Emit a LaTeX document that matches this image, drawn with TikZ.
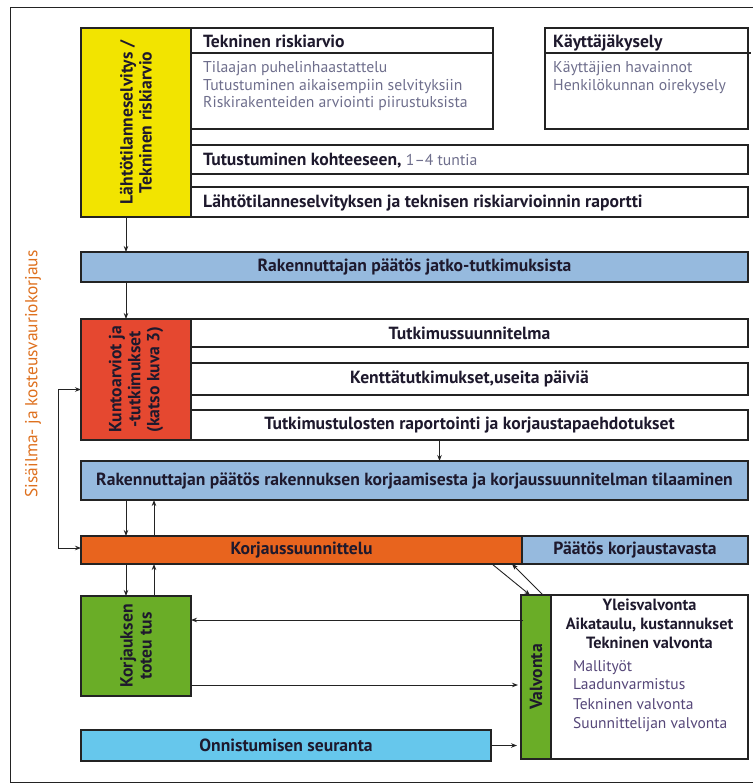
\documentclass[tikz,border=0pt]{standalone}
\usepackage{fontspec}
\setmainfont{PT Sans}
\usetikzlibrary{arrows.meta}
\definecolor{yelc}{RGB}{242,228,0}
\definecolor{skyc}{RGB}{150,186,222}
\definecolor{redc}{RGB}{229,72,48}
\definecolor{orc}{RGB}{232,100,30}
\definecolor{grnc}{RGB}{106,173,39}
\definecolor{cyanc}{RGB}{102,199,236}
\definecolor{ink}{RGB}{30,25,45}
\definecolor{greytxt}{RGB}{110,110,140}
\definecolor{purtxt}{RGB}{85,70,120}
\definecolor{sidetxt}{RGB}{222,112,30}
\definecolor{edge}{RGB}{35,35,35}
\begin{document}
\begin{tikzpicture}[x=1pt,y=-1pt,
  box/.style={draw=edge, line width=1.2pt, inner sep=0pt, outer sep=0pt,
    anchor=north west, font=\fontsize{17.6}{19}\selectfont\bfseries, text=ink},
  boldtxt/.style={font=\fontsize{17.6}{19}\selectfont\bfseries, text=ink, inner sep=0pt, anchor=base west},
  thintxt/.style={font=\fontsize{15.7}{18}\selectfont, text=greytxt, inner sep=0pt, anchor=base west},
  itemtxt/.style={font=\fontsize{15.5}{18}\selectfont, text=purtxt, inner sep=0pt, anchor=base west},
  vtxt/.style={rotate=90, align=center, font=\fontsize{17.6}{19}\selectfont\bfseries, text=ink},
  arr/.style={draw=edge, line width=0.9pt, -{Stealth[length=6pt,width=4.5pt]}}]
\useasboundingbox (0,0) rectangle (752,783);

% outer frame
\draw[draw=edge, line width=1pt] (10,8) rectangle (770,782);

% side label
\node[rotate=90, font=\fontsize{17.4}{19}\selectfont, text=sidetxt] (side) at (33,374)
  {Sisäilma- ja kosteusvauriokorjaus};

% ---- initial survey / technical risk assessment ----
\node[box, fill=yelc, minimum width=110pt, minimum height=189pt] (lt) at (81,28) {};
\node[vtxt] (ltlbl) at (lt.center) {Lähtötilanneselvitys /\\Tekninen riskiarvio};

\node[box, minimum width=302pt, minimum height=101pt] (tr) at (191,28) {};
\draw[draw=edge, line width=1.2pt] (191,53) -- (493,53);
\node[boldtxt] (trh) at (203,48) {Tekninen riskiarvio};
\node[thintxt] (tr1) at (203,73) {Tilaajan puhelinhaastattelu};
\node[thintxt] (tr2) at (203,90.5) {Tutustuminen aikaisempiin selvityksiin};
\node[thintxt] (tr3) at (203,108) {Riskirakenteiden arviointi piirustuksista};

\node[box, minimum width=203pt, minimum height=101pt] (kk) at (545,28) {};
\draw[draw=edge, line width=1.2pt] (545,53) -- (751,53);
\node[boldtxt] (kkh) at (553,48) {Käyttäjäkysely};
\node[thintxt] (kk1) at (553,73) {Käyttäjien havainnot};
\node[thintxt] (kk2) at (553,91) {Henkilökunnan oirekysely};

\node[box, minimum width=557pt, minimum height=29pt] (tk) at (191,145) {};
\node[boldtxt] (tkl) at (203,165.5)
  {Tutustuminen kohteeseen, \textcolor{greytxt}{\mdseries\fontsize{15.7}{18}\selectfont 1–4 tuntia}};

\node[box, minimum width=557pt, minimum height=30pt] (rp) at (191,187) {};
\node[boldtxt] (rpl) at (203,208)
  {Lähtötilanneselvityksen ja teknisen riskiarvioinnin raportti};

% ---- decision on further studies ----
\node[box, fill=skyc, minimum width=667pt, minimum height=30pt] (rak1) at (81,252)
  {Rakennuttajan päätös jatko-tutkimuksista};

% ---- condition assessments ----
\node[box, fill=redc, minimum width=110pt, minimum height=121pt] (red) at (81,319) {};
\node[vtxt] (redlbl) at (red.center) {Kuntoarviot ja\\-tutkimukset\\(katso kuva 3)};
\node[box, minimum width=557pt, minimum height=28pt] (row1) at (191,319) {Tutkimussuunnitelma};
\node[box, minimum width=557pt, minimum height=32pt] (row2) at (191,363) {Kenttätutkimukset,useita päiviä};
\node[box, minimum width=557pt, minimum height=30pt] (row3) at (191,410)
  {Tutkimustulosten raportointi ja korjaustapaehdotukset};

% ---- repair decision ----
\node[box, fill=skyc, minimum width=667pt, minimum height=39pt] (rak2) at (81,461)
  {Rakennuttajan päätös rakennuksen korjaamisesta ja korjaussuunnitelman tilaaminen};

% ---- repair design ----
\node[box, fill=orc, minimum width=441pt, minimum height=28pt] (kor) at (81,536) {Korjaussuunnittelu};
\node[box, fill=skyc, minimum width=226pt, minimum height=28pt] (pko) at (522,536) {Päätös korjaustavasta};

% ---- implementation ----
\node[box, fill=grnc, minimum width=110pt, minimum height=100pt] (grn) at (81,596) {};
\node[vtxt] (grnlbl) at (grn.center) {Korjauksen\\toteu tus};

% ---- supervision ----
\node[box, fill=grnc, minimum width=30pt, minimum height=164pt] (valv) at (521,595) {};
\node[vtxt] (valvlbl) at (valv.center) {Valvonta};
\node[box, minimum width=197pt, minimum height=164pt] (vbox) at (551,595) {};
\node[align=center, font=\fontsize{16.3}{19}\selectfont\bfseries, text=ink, inner sep=0pt, anchor=north] (vhead)
  at (649.5,599) {Yleisvalvonta\\Aikataulu, kustannukset\\Tekninen valvonta};
\node[itemtxt] (v1) at (573,671) {Mallityöt};
\node[itemtxt] (v2) at (573,689.5) {Laadunvarmistus};
\node[itemtxt] (v3) at (573,709) {Tekninen valvonta};
\node[itemtxt] (v4) at (573,728) {Suunnittelijan valvonta};

% ---- follow-up ----
\node[box, fill=cyanc, minimum width=410pt, minimum height=31pt] (onn) at (81,730) {Onnistumisen seuranta};

% ---- connectors ----
\coordinate (c1) at ([xshift=-10pt]lt.south);
\draw[arr] (c1) -- (c1 |- rak1.north);
\coordinate (c2) at (c1 |- rak1.south);
\draw[arr] (c2) -- (c2 |- red.north);
\coordinate (c3) at ([xshift=-30pt]row3.south);
\draw[arr] (c3) -- (c3 |- rak2.north);

\coordinate (d1) at (c1 |- rak2.south);
\draw[arr] (d1) -- (d1 |- kor.north);
\coordinate (u0) at ([xshift=18pt]lt.south);
\coordinate (u1) at (u0 |- kor.north);
\draw[arr] (u1) -- (u1 |- rak2.south);

\coordinate (d2) at (c1 |- kor.south);
\draw[arr] (d2) -- (d2 |- grn.north);
\coordinate (u2) at (u0 |- grn.north);
\draw[arr] (u2) -- (u2 |- kor.south);

\draw[draw=edge, line width=0.9pt, {Stealth[length=6pt,width=4.5pt]}-{Stealth[length=6pt,width=4.5pt]}]
  ([yshift=-10pt]red.west) -- ++(-23,0) |- ([yshift=2pt]kor.west);

\coordinate (g1) at ([yshift=26pt]grn.east);
\draw[arr] ([xshift=2pt]g1 -| valv.west) -- (g1);
\coordinate (g2) at ([yshift=-39pt]grn.east);
\draw[arr, shorten >=3pt] (g2) -- (g2 -| valv.west);
\draw[arr, shorten >=4pt] (onn.east) -- (onn.east -| valv.west);

\draw[arr] ([xshift=-30pt]kor.south east) -- ([xshift=9pt]valv.north west);
\draw[arr] ([xshift=22pt]valv.north west) -- ([xshift=-10pt]kor.south east);
\end{tikzpicture}
\end{document}
